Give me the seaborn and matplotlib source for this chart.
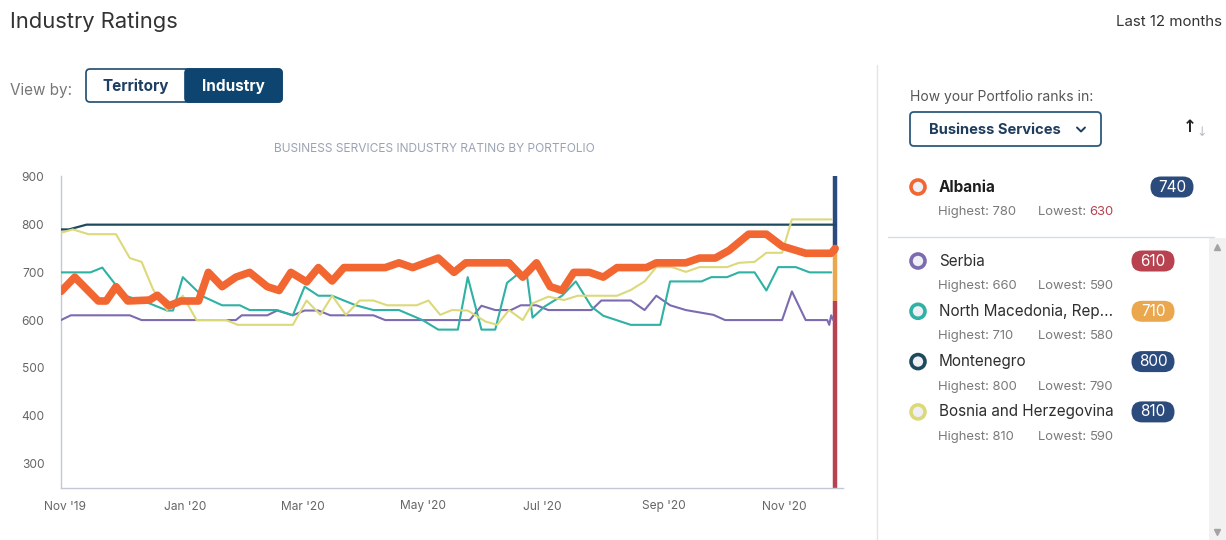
# import libraries
import pandas as pd
import matplotlib.pyplot as plt
from matplotlib.patches import FancyBboxPatch, Rectangle, Circle
import seaborn as sns

# ratings (turning points of each line)
albania_dates = ['2019-10-30', '2019-11-06', '2019-11-18', '2019-11-22', '2019-11-27', '2019-12-03',
                 '2019-12-14', '2019-12-18', '2019-12-24', '2019-12-30', '2020-01-08', '2020-01-13',
                 '2020-01-20', '2020-01-27', '2020-02-03', '2020-02-12', '2020-02-18', '2020-02-24',
                 '2020-03-03', '2020-03-09', '2020-03-16', '2020-03-22', '2020-04-12', '2020-04-19',
                 '2020-04-26', '2020-05-09', '2020-05-17', '2020-05-23', '2020-06-14', '2020-06-21',
                 '2020-06-28', '2020-07-05', '2020-07-11', '2020-07-17', '2020-07-25', '2020-08-01',
                 '2020-08-08', '2020-08-23', '2020-08-28', '2020-09-12', '2020-09-19', '2020-09-27',
                 '2020-10-04', '2020-10-14', '2020-10-23', '2020-10-31', '2020-11-12', '2020-11-25',
                 '2020-11-27']
albania_vals = [660, 690, 640, 640, 670, 640,
                642, 652, 630, 640, 640, 700,
                670, 690, 700, 670, 662, 700,
                680, 710, 682, 710, 710, 720,
                710, 730, 700, 720, 720, 690,
                720, 670, 662, 700, 700, 690,
                710, 710, 720, 720, 730, 730,
                746, 780, 780, 755, 740, 740,
                750]

serbia_dates = ['2019-10-30', '2019-11-04', '2019-12-04', '2019-12-10', '2020-01-27', '2020-01-30',
                '2020-02-12', '2020-02-17', '2020-02-25', '2020-03-02', '2020-03-09', '2020-03-15',
                '2020-04-06', '2020-04-12', '2020-05-25', '2020-05-31', '2020-06-07', '2020-06-15',
                '2020-06-20', '2020-06-28', '2020-07-04', '2020-07-26', '2020-07-31', '2020-08-15',
                '2020-08-22', '2020-08-28', '2020-09-04', '2020-09-12', '2020-09-26', '2020-10-02',
                '2020-10-31', '2020-11-05', '2020-11-12', '2020-11-23', '2020-11-24', '2020-11-25',
                '2020-11-26']
serbia_vals = [600, 610, 610, 600, 600, 610,
               610, 620, 610, 620, 620, 610,
               610, 600, 600, 630, 621, 621,
               631, 631, 621, 621, 641, 641,
               621, 651, 631, 621, 611, 600,
               600, 660, 600, 600, 590, 610,
               600]

macedonia_dates = ['2019-10-30', '2019-11-14', '2019-11-20', '2019-12-01', '2019-12-14', '2019-12-23',
                   '2019-12-26', '2019-12-31', '2020-01-10', '2020-01-20', '2020-01-29', '2020-02-03',
                   '2020-02-17', '2020-02-25', '2020-03-02', '2020-03-09', '2020-03-16', '2020-03-28',
                   '2020-04-06', '2020-04-19', '2020-05-01', '2020-05-09', '2020-05-19', '2020-05-24',
                   '2020-05-31', '2020-06-07', '2020-06-13', '2020-06-19', '2020-06-23', '2020-06-26',
                   '2020-07-02', '2020-07-11', '2020-07-18', '2020-07-26', '2020-08-01', '2020-08-15',
                   '2020-08-30', '2020-09-04', '2020-09-20', '2020-09-25', '2020-10-03', '2020-10-09',
                   '2020-10-17', '2020-10-23', '2020-10-29', '2020-11-07', '2020-11-14', '2020-11-25']
macedonia_vals = [700, 700, 710, 652, 635, 620,
                  620, 690, 650, 631, 631, 621,
                  621, 610, 670, 651, 651, 631,
                  621, 621, 600, 580, 580, 690,
                  580, 580, 678, 698, 698, 605,
                  628, 651, 681, 628, 609, 590,
                  590, 681, 681, 690, 690, 700,
                  700, 662, 711, 711, 700, 700]

montenegro_dates = ['2019-10-30', '2019-11-03', '2019-11-12', '2020-11-27']
montenegro_vals = [790, 790, 800, 800]

bosnia_dates = ['2019-10-30', '2019-11-05', '2019-11-13', '2019-11-27', '2019-12-04', '2019-12-10',
                '2019-12-16', '2019-12-23', '2019-12-31', '2020-01-07', '2020-01-22', '2020-01-28',
                '2020-02-25', '2020-03-03', '2020-03-10', '2020-03-16', '2020-03-23', '2020-03-30',
                '2020-04-06', '2020-04-13', '2020-04-28', '2020-05-04', '2020-05-10', '2020-05-16',
                '2020-05-24', '2020-06-02', '2020-06-08', '2020-06-14', '2020-06-21', '2020-06-26',
                '2020-07-04', '2020-07-12', '2020-07-19', '2020-08-08', '2020-08-15', '2020-08-22',
                '2020-08-28', '2020-09-05', '2020-09-12', '2020-09-19', '2020-10-03', '2020-10-09',
                '2020-10-17', '2020-10-23', '2020-10-31', '2020-11-05', '2020-11-25']
bosnia_vals = [783, 790, 780, 780, 730, 722,
               663, 621, 651, 600, 600, 590,
               590, 641, 611, 651, 611, 641,
               641, 631, 631, 641, 611, 621,
               620, 597, 590, 621, 600, 635,
               649, 642, 651, 651, 663, 681,
               711, 711, 701, 711, 711, 720,
               722, 741, 741, 811, 811]

countries = ['Serbia', 'North Macedonia', 'Montenegro', 'Bosnia and Herzegovina', 'Albania']
line_colors = ['#7c6bb0', '#2fb1a4', '#1d4b5d', '#dcd97a', '#f26632']
line_widths = [1.5, 1.5, 1.6, 1.5, 5.5]

# rating bands shown on the right edge bar
band_limits = [248, 640, 740, 902]
band_colors = ['#b8424f', '#eba74e', '#2c4b7d']

tick_dates = ['2019-11-01', '2020-01-01', '2020-03-01', '2020-05-01', '2020-07-01', '2020-09-01', '2020-11-01']
tick_labels = ["Nov '19", "Jan '20", "Mar '20", "May '20", "Jul '20", "Sep '20", "Nov '20"]
y_ticks = [300, 400, 500, 600, 700, 800, 900]

# side panel values
panel_names = ['Serbia', 'North Macedonia, Rep...', 'Montenegro', 'Bosnia and Herzegovina']
panel_current = [610, 710, 800, 810]
panel_high = [660, 710, 800, 810]
panel_low = [590, 580, 790, 590]
portfolio_current, portfolio_high, portfolio_low = 740, 780, 630

# building the long table
series = {'Albania': (albania_dates, albania_vals), 'Serbia': (serbia_dates, serbia_vals),
          'North Macedonia': (macedonia_dates, macedonia_vals),
          'Montenegro': (montenegro_dates, montenegro_vals),
          'Bosnia and Herzegovina': (bosnia_dates, bosnia_vals)}
frames = []
for name, (d, v) in series.items():
    frames.append(pd.DataFrame({'date': pd.to_datetime(d), 'rating': v, 'country': name}))
dados = pd.concat(frames, ignore_index=True)

sns.set_style("white")
plt.rcParams['font.family'] = ['Inter', 'DejaVu Sans']

fig = plt.figure(figsize=(12.26, 5.40), dpi=100)

# overlay in pixel coordinates for the dashboard pieces
ui = fig.add_axes([0, 0, 1, 1])
ui.set_xlim(0, 1226)
ui.set_ylim(540, 0)
ui.axis('off')

ax = fig.add_axes([61 / 1226, 1 - 488 / 540, (843 - 61) / 1226, (488 - 176) / 540])
ax.patch.set_alpha(0)

# band bar at the last date
last_date = pd.to_datetime(albania_dates[-1])
ax.vlines([last_date] * 3, band_limits[:-1], band_limits[1:], colors=band_colors, linewidth=3.2, zorder=2)

for name, col, lw in zip(countries, line_colors, line_widths):
    sub = dados[dados.country == name]
    sns.lineplot(data=sub, x='date', y='rating', color=col, linewidth=lw, ax=ax, zorder=3,
                 estimator=None, solid_capstyle='round', solid_joinstyle='round')

ax.set_xlim(pd.Timestamp('2019-10-30'), pd.Timestamp('2020-12-01'))
ax.set_ylim(band_limits[0], band_limits[-1])
ax.set_xticks(pd.to_datetime(tick_dates))
ax.set_xticklabels(tick_labels)
ax.set_yticks(y_ticks)
ax.set_xlabel('')
ax.set_ylabel('')
ax.tick_params(axis='x', length=6, width=0.8, color='#d5d8e0', labelsize=8.6, labelcolor='#666666', pad=3)
ax.tick_params(axis='y', length=0, labelsize=8.6, labelcolor='#666666', pad=12)
sns.despine(ax=ax)
for s in ['left', 'bottom']:
    ax.spines[s].set_color('#c3c8d4')
    ax.spines[s].set_linewidth(1)

# chart title
fig.text(434 / 1226, 1 - 149 / 540, 'BUSINESS SERVICES INDUSTRY RATING BY PORTFOLIO', ha='center', va='center',
         fontsize=8.6, color='#9ba3b3')

# header
ui.text(10, 22, 'Industry Ratings', fontsize=15.8, color='#333333', va='center', ha='left')
ui.text(1222, 22, 'Last 12 months', fontsize=10.8, color='#333333', va='center', ha='right')
ui.text(10, 90, 'View by:', fontsize=11, color='#777777', va='center', ha='left')

# toggle buttons
ui.add_patch(FancyBboxPatch((86, 69), 196, 33, boxstyle='round,pad=0,rounding_size=4',
                            facecolor='white', edgecolor='#1f4b70', linewidth=1.2))
ui.add_patch(FancyBboxPatch((185, 69), 97, 33, boxstyle='round,pad=0,rounding_size=4',
                            facecolor='#0d4470', edgecolor='#0d4470', linewidth=1.2))
ui.add_patch(Rectangle((185, 69), 10, 33, facecolor='#0d4470', edgecolor='none'))
ui.text(136, 86, 'Territory', fontsize=11, fontweight='bold', color='#1f3f62', ha='center', va='center')
ui.text(233, 86, 'Industry', fontsize=11, fontweight='bold', color='white', ha='center', va='center')

# divider between chart and panel
ui.plot([877, 877], [65, 540], color='#e3e5ea', linewidth=1)

# side panel
ui.text(910, 97, 'How your Portfolio ranks in:', fontsize=10, color='#555555', va='center', ha='left')
ui.add_patch(FancyBboxPatch((910, 112), 191, 34, boxstyle='round,pad=0,rounding_size=4',
                            facecolor='white', edgecolor='#2c5a7c', linewidth=1.3))
ui.text(929, 130, 'Business Services', fontsize=10.6, fontweight='bold', color='#1f3d5c', va='center', ha='left')
ui.plot([1077, 1081, 1085], [127.5, 131.5, 127.5], color='#1f3d5c', linewidth=1.4)
ui.text(1190, 127, '↑', fontsize=12, fontweight='bold', color='#222222', ha='center', va='center',
        family='DejaVu Sans')
ui.text(1202, 133, '↓', fontsize=9, color='#b8bcc4', ha='center', va='center', family='DejaVu Sans')


def band_color(v):
    for lo, hi, c in zip(band_limits[:-1], band_limits[1:], band_colors):
        if lo <= v < hi:
            return c
    return band_colors[-1]


def entry(y, name, col, cur, hi, lo, bx, bold=False, lo_col='#7a7a7a'):
    ui.add_patch(Circle((918, y), 7, facecolor='#eef0f6', edgecolor=col, linewidth=2.6))
    ui.text(939, y, name, fontsize=11, fontweight='bold' if bold else 'normal',
            color='#1e1e1e' if bold else '#2e2e2e', va='center', ha='left')
    ui.add_patch(FancyBboxPatch((bx - 21.5, y - 10.5), 43, 21, boxstyle='round,pad=0,rounding_size=10.5',
                                facecolor=band_color(cur), edgecolor='none'))
    ui.text(bx, y, str(cur), fontsize=11, color='white', ha='center', va='center')
    ui.text(938, y + 25, 'Highest: %d' % hi, fontsize=9.4, color='#7a7a7a', va='center', ha='left')
    t = ui.text(1038, y + 25, 'Lowest: ', fontsize=9.4, color='#7a7a7a', va='center', ha='left')
    ui.annotate(str(lo), xycoords=t, xy=(1, 0.5), va='center', ha='left', fontsize=9.4, color=lo_col)


entry(187, 'Albania', line_colors[-1], portfolio_current, portfolio_high, portfolio_low, 1172,
      bold=True, lo_col=band_color(portfolio_low))
ui.plot([888, 1214], [237, 237], color='#d9dce2', linewidth=1)

# scrollbar
ui.add_patch(Rectangle((1209, 238), 17, 302, facecolor='#f1f1f1', edgecolor='none'))
ui.plot(1217, 247, marker='^', markersize=5, color='#a3a3a3')
ui.plot(1217, 532, marker='v', markersize=5, color='#a3a3a3')

for i, (nm, cur, hi, lo) in enumerate(zip(panel_names, panel_current, panel_high, panel_low)):
    entry(261 + 50.3 * i, nm, line_colors[i], cur, hi, lo, 1153)

plt.savefig('out.png', dpi=100)
